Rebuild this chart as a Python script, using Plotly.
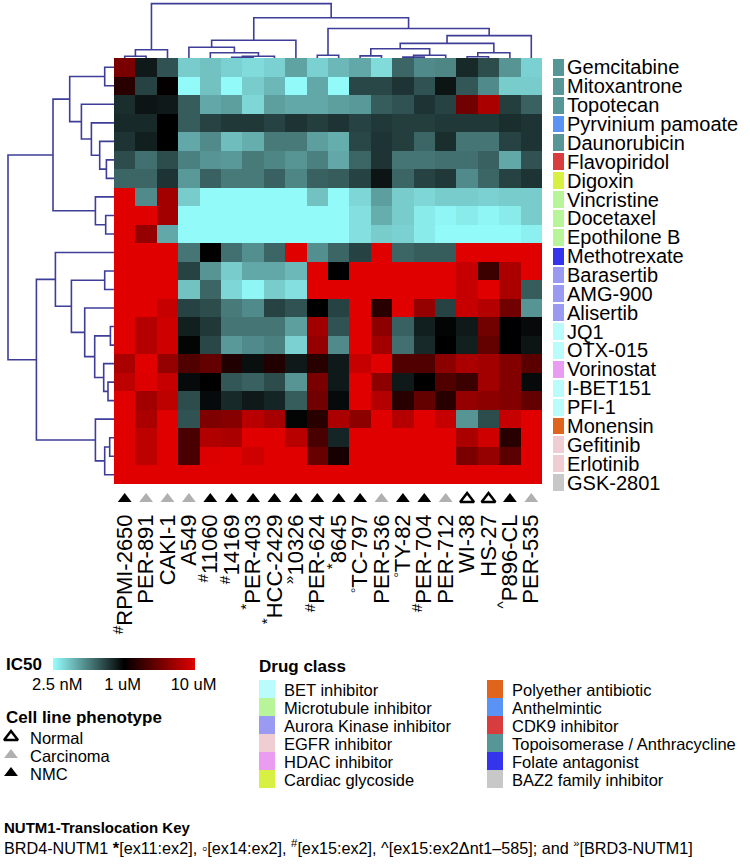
import plotly.graph_objects as go

W, H = 750, 864
def px(x): return x / W
def py(y): return 1 - y / H

# ---------------- data ----------------
cell_lines = ["RPMI-2650", "PER-891", "CAKI-1", "A549", "11060", "14169", "PER-403",
              "HCC-2429", "10326", "PER-624", "8645", "TC-797", "PER-536", "TY-82",
              "PER-704", "PER-712", "WI-38", "HS-27", "P896-CL", "PER-535"]
translocation = ["#", "", "", "", "#", "#", "*", "*", "»", "#", "*", "◦", "", "◦",
                 "#", "", "", "", "^", ""]
phenotype = ["NMC", "Carcinoma", "Carcinoma", "Carcinoma", "NMC", "NMC", "NMC", "NMC",
             "NMC", "NMC", "NMC", "NMC", "Carcinoma", "NMC", "NMC", "Carcinoma",
             "Normal", "Normal", "NMC", "Carcinoma"]

drugs = ["Gemcitabine", "Mitoxantrone", "Topotecan", "Pyrvinium pamoate", "Daunorubicin",
         "Flavopiridol", "Digoxin", "Vincristine", "Docetaxel", "Epothilone B",
         "Methotrexate", "Barasertib", "AMG-900", "Alisertib", "JQ1", "OTX-015",
         "Vorinostat", "I-BET151", "PFI-1", "Monensin", "Gefitinib", "Erlotinib", "GSK-2801"]
drug_class = ["Topoisomerase / Anthracycline", "Topoisomerase / Anthracycline",
              "Topoisomerase / Anthracycline", "Anthelmintic", "Topoisomerase / Anthracycline",
              "CDK9 inhibitor", "Cardiac glycoside", "Microtubule inhibitor",
              "Microtubule inhibitor", "Microtubule inhibitor", "Folate antagonist",
              "Aurora Kinase inhibitor", "Aurora Kinase inhibitor", "Aurora Kinase inhibitor",
              "BET inhibitor", "BET inhibitor", "HDAC inhibitor", "BET inhibitor",
              "BET inhibitor", "Polyether antibiotic", "EGFR inhibitor", "EGFR inhibitor",
              "BAZ2 family inhibitor"]

class_names = ["BET inhibitor", "Microtubule inhibitor", "Aurora Kinase inhibitor",
               "EGFR inhibitor", "HDAC inhibitor", "Cardiac glycoside",
               "Polyether antibiotic", "Anthelmintic", "CDK9 inhibitor",
               "Topoisomerase / Anthracycline", "Folate antagonist", "BAZ2 family inhibitor"]
class_colors = ["#bafcfc", "#b8f59a", "#9a9af2", "#f0cdd3", "#ea9cf0", "#d8f042",
                "#e0651c", "#5b93f5", "#d93c3c", "#569696", "#3434ec", "#c8c8c8"]

# IC50 colour score: 0 = 2.5 nM, 50 = 1 uM, 100 = 10 uM
ic50_score = [
    [77, 45, 34, 10, 12, 9, 7, 9, 18, 9, 14, 17, 7, 30, 23, 24, 42, 35, 21, 9],
    [59, 37, 51, 1, 12, 1, 10, 14, 1, 17, 1, 36, 36, 40, 34, 46, 33, 23, 10, 10],
    [41, 46, 45, 32, 17, 19, 8, 19, 17, 17, 19, 20, 32, 34, 40, 37, 75, 88, 38, 31],
    [42, 42, 50, 32, 37, 39, 39, 37, 40, 38, 40, 37, 39, 38, 38, 39, 39, 39, 41, 40],
    [40, 44, 50, 17, 23, 13, 16, 26, 26, 19, 16, 36, 40, 38, 30, 41, 27, 27, 37, 40],
    [35, 28, 35, 25, 21, 20, 26, 24, 21, 25, 17, 30, 40, 27, 27, 28, 28, 31, 17, 34],
    [30, 30, 40, 20, 31, 26, 26, 31, 24, 31, 32, 37, 46, 30, 37, 39, 23, 30, 37, 40],
    [100, 23, 86, 10, 1, 1, 1, 1, 1, 12, 1, 8, 19, 10, 8, 10, 10, 9, 10, 10],
    [100, 100, 86, 1, 1, 1, 1, 1, 1, 1, 1, 6, 16, 10, 4, 2, 4, 2, 4, 10],
    [100, 83, 17, 1, 1, 1, 1, 1, 1, 1, 1, 6, 10, 9, 4, 1, 1, 1, 1, 3],
    [100, 100, 100, 27, 50, 28, 22, 30, 100, 22, 30, 37, 100, 30, 32, 32, 100, 100, 100, 100],
    [100, 100, 100, 37, 21, 10, 17, 17, 14, 100, 50, 100, 100, 100, 100, 100, 94, 63, 88, 100],
    [100, 100, 100, 12, 30, 8, 2, 10, 6, 100, 100, 100, 100, 100, 100, 100, 94, 100, 88, 32],
    [100, 100, 94, 37, 35, 26, 23, 37, 34, 50, 37, 100, 59, 100, 83, 37, 94, 90, 75, 21],
    [100, 90, 96, 44, 39, 27, 27, 27, 19, 86, 34, 100, 81, 31, 44, 49, 45, 75, 50, 48],
    [100, 90, 96, 49, 36, 20, 23, 25, 9, 83, 23, 100, 86, 28, 42, 50, 44, 72, 50, 46],
    [88, 100, 83, 68, 72, 57, 47, 57, 45, 59, 45, 94, 100, 68, 68, 81, 88, 86, 79, 70],
    [92, 99, 94, 48, 50, 33, 31, 35, 21, 77, 45, 100, 81, 45, 50, 68, 63, 86, 79, 48],
    [100, 86, 92, 35, 48, 42, 45, 43, 32, 75, 48, 100, 90, 59, 72, 59, 83, 81, 79, 72],
    [100, 88, 100, 34, 78, 80, 91, 87, 49, 59, 88, 81, 100, 90, 100, 94, 21, 35, 94, 100],
    [100, 92, 100, 66, 89, 88, 100, 100, 91, 66, 43, 100, 100, 100, 100, 100, 88, 96, 59, 100],
    [100, 92, 100, 66, 99, 100, 96, 100, 100, 73, 55, 100, 100, 100, 100, 100, 77, 83, 70, 100],
    [100] * 20,
]

# hierarchical clustering merges: (child a, child b, height); ids >= n are earlier merges
col_linkage = [(0, 1, 1.8), (20, 2, 8.2), (5, 6, 0.8), (22, 7, 1.8), (4, 23, 5.3),
               (3, 24, 10.7), (25, 8, 17.8), (9, 10, 2.8), (11, 12, 2.1), (13, 14, 0.9),
               (29, 15, 2.8), (28, 30, 9.2), (16, 17, 1.2), (32, 18, 5.3), (31, 33, 14.6),
               (34, 19, 22.4), (27, 35, 29.5), (26, 36, 40.2), (21, 37, 54.4)]
row_linkage = [(5, 6, 7.6), (4, 23, 14.3), (3, 24, 22.6), (2, 25, 32.6), (0, 1, 9.3),
               (27, 26, 44.3), (8, 9, 8.3), (7, 29, 18.6), (28, 30, 61.0), (11, 12, 9.3),
               (17, 18, 6.0), (16, 33, 10.3), (14, 15, 3.6), (35, 34, 19.3), (13, 36, 29.3),
               (32, 37, 42.6), (10, 38, 58.6), (20, 21, 4.3), (40, 22, 9.3), (19, 41, 18.6),
               (39, 42, 77.6), (31, 43, 106.0)]

# ---------------- helpers ----------------
def dendro_lines(n, linkage):
    pos = {i: float(i) for i in range(n)}
    hgt = {i: 0.0 for i in range(n)}
    xs, hs = [], []
    for k, (a, b, h) in enumerate(linkage):
        xs += [pos[a], pos[a], pos[b], pos[b], None]
        hs += [hgt[a], h, h, hgt[b], None]
        pos[n + k] = (pos[a] + pos[b]) / 2
        hgt[n + k] = h
    return xs, hs

FONT = "Liberation Sans, Arial, sans-serif"
DCOL = "#3e3e98"
nC, nR = len(cell_lines), len(drugs)

HX0, HX1, HY0, HY1 = 114, 542, 58, 484
SY1 = 492  # drug-class strip bottom
xr = [-0.5, nC - 0.5]
yr = [nR - 0.5, -0.5]

fig = go.Figure()

# main heatmap
fig.add_trace(go.Heatmap(
    z=ic50_score, x=list(range(nC)), y=list(range(nR)),
    colorscale=[[0, "#96ffff"], [0.5, "#000000"], [1, "#e10000"]],
    zmin=0, zmax=100, xaxis="x", yaxis="y", hoverinfo="z",
    colorbar=dict(orientation="h", x=px(53), xanchor="left", y=py(658), yanchor="top",
                  len=142, lenmode="pixels", thickness=12, thicknessmode="pixels",
                  outlinewidth=0, xpad=0, ypad=0, ticks="",
                  tickvals=[3, 49, 99], ticktext=["2.5 nM", "1 uM", "10 uM"],
                  tickfont=dict(size=16.5, color="black", family=FONT)),
))

# drug class strip
cidx = [class_names.index(c) for c in drug_class]
ncl = len(class_names)
cscale = []
for k, c in enumerate(class_colors):
    cscale += [[k / ncl, c], [(k + 1) / ncl, c]]
fig.add_trace(go.Heatmap(
    z=[[v] for v in cidx], x=[0], y=list(range(nR)), colorscale=cscale,
    zmin=-0.5, zmax=ncl - 0.5, showscale=False, ygap=2, xaxis="x3", yaxis="y3",
    hoverinfo="skip"))

# dendrograms
cx, ch = dendro_lines(nC, col_linkage)
fig.add_trace(go.Scatter(x=cx, y=ch, mode="lines", line=dict(color=DCOL, width=1.6),
                         xaxis="x2", yaxis="y2", hoverinfo="skip", showlegend=False))
rx, rh = dendro_lines(nR, row_linkage)
fig.add_trace(go.Scatter(x=rh, y=rx, mode="lines", line=dict(color=DCOL, width=1.6),
                         xaxis="x5", yaxis="y5", hoverinfo="skip", showlegend=False))

# phenotype triangles
sym = {"Normal": "triangle-up-open", "Carcinoma": "triangle-up", "NMC": "triangle-up"}
col = {"Normal": "black", "Carcinoma": "#b0b0b0", "NMC": "black"}
for ph in ["Normal", "Carcinoma", "NMC"]:
    idx = [i for i, p in enumerate(phenotype) if p == ph]
    fig.add_trace(go.Scatter(
        x=idx, y=[0.5] * len(idx), mode="markers", xaxis="x4", yaxis="y4",
        marker=dict(symbol=sym[ph], size=12, color=col[ph],
                    line=dict(width=2.5 if ph == "Normal" else 0, color=col[ph])),
        showlegend=False, hoverinfo="skip"))

# phenotype legend markers (pixel overlay axis)
leg_ph = ["Normal", "Carcinoma", "NMC"]
leg_y = [737, 755, 773]
for ph, yy in zip(leg_ph, leg_y):
    fig.add_trace(go.Scatter(
        x=[11], y=[yy], mode="markers", xaxis="x6", yaxis="y6",
        marker=dict(symbol=sym[ph], size=12, color=col[ph],
                    line=dict(width=2.5 if ph == "Normal" else 0, color=col[ph])),
        showlegend=False, hoverinfo="skip"))

col_text = [("<sup>%s</sup>" % t if t else "") + c for t, c in zip(translocation, cell_lines)]

hid = dict(visible=False, showgrid=False, zeroline=False)
fig.update_layout(
    width=W, height=H, margin=dict(l=0, r=0, t=0, b=0),
    paper_bgcolor="white", plot_bgcolor="rgba(0,0,0,0)",
    font=dict(family=FONT, color="black"),
    showlegend=False,
    xaxis=dict(domain=[px(HX0), px(HX1)], range=xr, anchor="y", **hid),
    yaxis=dict(domain=[py(HY1), py(HY0)], range=yr, anchor="x", **hid),
    xaxis2=dict(domain=[px(HX0), px(HX1)], range=xr, anchor="y2", **hid),
    yaxis2=dict(domain=[py(HY0), 1], range=[0, HY0], anchor="x2", **hid),
    xaxis3=dict(domain=[px(553), px(564)], range=[-0.5, 0.5], anchor="y3", **hid),
    yaxis3=dict(domain=[py(SY1), py(HY0)], range=yr, anchor="x3", side="right",
                tickvals=list(range(nR)), ticktext=drugs, ticks="", showgrid=False,
                zeroline=False, showline=False, automargin=False, ticklabelstandoff=2,
                tickfont=dict(size=20, color="black", family=FONT)),
    xaxis4=dict(domain=[px(HX0), px(HX1)], range=xr, anchor="y4", side="bottom",
                tickvals=list(range(nC)), ticktext=col_text, tickangle=-90, ticks="",
                showgrid=False, zeroline=False, showline=False, automargin=False,
                ticklabelstandoff=2,
                tickfont=dict(size=22, color="black", family=FONT)),
    yaxis4=dict(domain=[py(507), py(491)], range=[0, 1], anchor="x4", **hid),
    xaxis5=dict(domain=[0, px(HX0)], range=[HX0, 0], anchor="y5", **hid),
    yaxis5=dict(domain=[py(HY1), py(HY0)], range=yr, anchor="x5", **hid),
    xaxis6=dict(domain=[0, 1], range=[0, W], anchor="y6", **hid),
    yaxis6=dict(domain=[0, 1], range=[H, 0], anchor="x6", **hid),
)

ann = []
def add_text(x, y, text, size, bold=False):
    ann.append(dict(x=px(x), y=py(y), xref="paper", yref="paper", xanchor="left",
                    yanchor="middle", showarrow=False,
                    text=("<b>%s</b>" % text) if bold else text,
                    font=dict(size=size, color="black", family=FONT)))

add_text(4, 664, "IC50", 17, True)
add_text(4, 717, "Cell line phenotype", 17, True)
for ph, yy in zip(leg_ph, leg_y):
    add_text(28, yy + 1, ph, 16.5)
add_text(257, 666, "Drug class", 17, True)

shapes = []
half = (len(class_names) + 1) // 2
for k, (name, c) in enumerate(zip(class_names, class_colors)):
    colx = k // half
    row = k % half
    sx = 259 if colx == 0 else 487
    tx = 282 if colx == 0 else 510
    top = 680 + 18 * row
    shapes.append(dict(type="rect", xref="paper", yref="paper", x0=px(sx), x1=px(sx + 16),
                       y0=py(top + 18), y1=py(top), fillcolor=c, line=dict(width=0)))
    add_text(tx, top + 10, name, 16.5)

add_text(2, 827, "NUTM1-Translocation Key", 15, True)
add_text(2, 847, "BRD4-NUTM1 <b>*</b>[ex11:ex2], ◦[ex14:ex2], <sup>#</sup>[ex15:ex2], "
                 "^[ex15:ex2Δnt1–585]; and <sup>»</sup>[BRD3-NUTM1]", 16.2)

fig.update_layout(annotations=ann, shapes=shapes)
fig.write_html("out.html", config={"displayModeBar": False},
               post_script="document.body.style.margin='0px';")
